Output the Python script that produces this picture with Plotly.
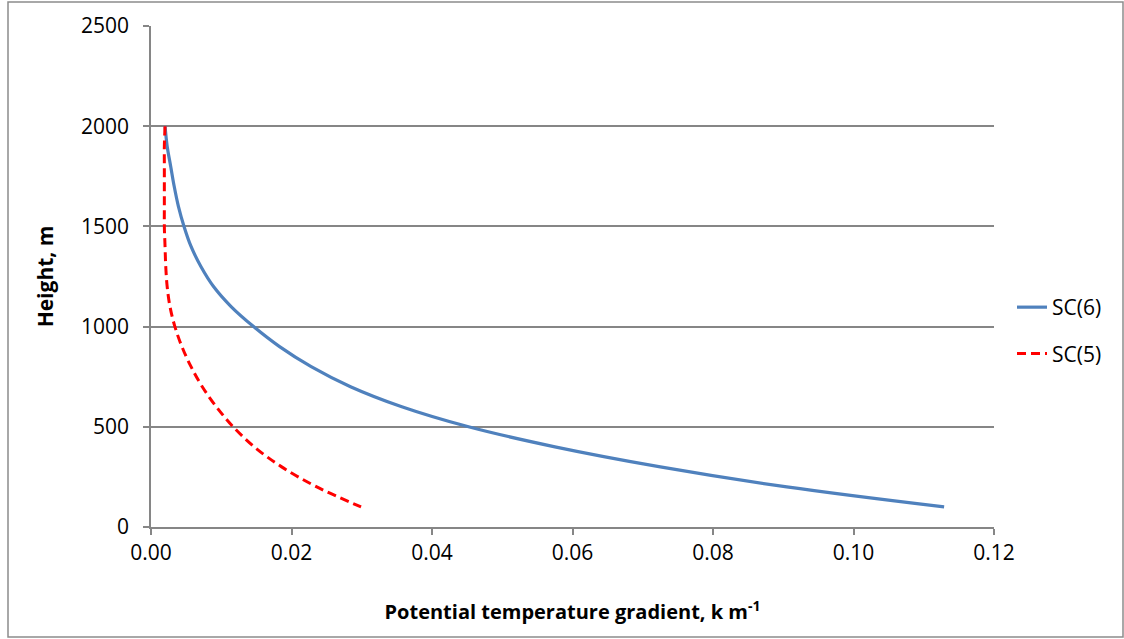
import plotly.graph_objects as go

heights = [2000, 1900, 1800, 1700, 1600, 1500, 1400, 1300, 1200, 1100,
           1000, 900, 800, 700, 600, 500, 400, 300, 200, 100]

sc6 = [0.0020, 0.0023, 0.0028, 0.0033, 0.0039, 0.0047, 0.0057, 0.0071, 0.0089, 0.0114,
       0.0146, 0.0183, 0.0228, 0.0284, 0.0357, 0.0452, 0.0575, 0.0725, 0.0905, 0.1129]

sc5 = [0.0020, 0.0019, 0.0019, 0.0019, 0.0019, 0.0019, 0.0020, 0.0021, 0.0023, 0.0027,
       0.0034, 0.0044, 0.0057, 0.0073, 0.0093, 0.0117, 0.0147, 0.0186, 0.0236, 0.0299]

x_ticks = [0.00, 0.02, 0.04, 0.06, 0.08, 0.10, 0.12]
y_ticks = [0, 500, 1000, 1500, 2000, 2500]

FONT = "Open Sans"
GRID = "#868686"

fig = go.Figure()
fig.add_trace(go.Scatter(x=sc6, y=heights, mode="lines", name="SC(6)",
                         legendgroup="a",
                         line=dict(color="#4F81BD", width=3.2, shape="spline", smoothing=1.0)))
fig.add_trace(go.Scatter(x=sc5, y=heights, mode="lines", name="SC(5)",
                         legendgroup="b",
                         line=dict(color="#FF0000", width=3, dash="9px,5px",
                                   shape="spline", smoothing=1.0)))

L, R, T, B = 151, 130, 26, 112
W, H = 1124, 639
pw, ph = W - L - R, H - T - B

def px(p):
    return (p - L) / pw

def py(p):
    return (H - B - p) / ph

fig.update_layout(
    width=W, height=H,
    margin=dict(l=L, r=R, t=T, b=B),
    paper_bgcolor="white", plot_bgcolor="white",
    font=dict(family=FONT, size=21, color="black"),
    showlegend=True,
    legend=dict(x=px(1012), y=py(287), xanchor="left", yanchor="top",
                font=dict(family=FONT, size=21, color="black"),
                tracegroupgap=16, bgcolor="rgba(0,0,0,0)"),
    xaxis=dict(range=[0, 0.12], tickvals=x_ticks, tickformat=".2f",
               showgrid=False, zeroline=False,
               showline=True, linecolor=GRID, linewidth=1.5,
               ticks="outside", ticklen=6, tickcolor=GRID, tickwidth=1.5,
               tickfont=dict(family=FONT, size=21),
               title=dict(text="<b>Potential temperature gradient, k m<sup>-1</sup></b>",
                          font=dict(family=FONT, size=20), standoff=40)),
    yaxis=dict(range=[0, 2500], tickvals=y_ticks,
               showgrid=True, gridcolor=GRID, gridwidth=1.5,
               zeroline=False,
               showline=True, linecolor=GRID, linewidth=1.5,
               ticks="outside", ticklen=6, tickcolor=GRID, tickwidth=1.5,
               ticklabelstandoff=10,
               tickfont=dict(family=FONT, size=21),
               title=dict(text="<b>Height, m</b>",
                          font=dict(family=FONT, size=21), standoff=22)),
    shapes=[dict(type="rect", xref="paper", yref="paper",
                 x0=px(8), x1=px(1123), y0=py(637), y1=py(2),
                 line=dict(color="#8C8C8C", width=1.5), fillcolor="rgba(0,0,0,0)",
                 layer="below")],
)

fig.write_html("out.html")
